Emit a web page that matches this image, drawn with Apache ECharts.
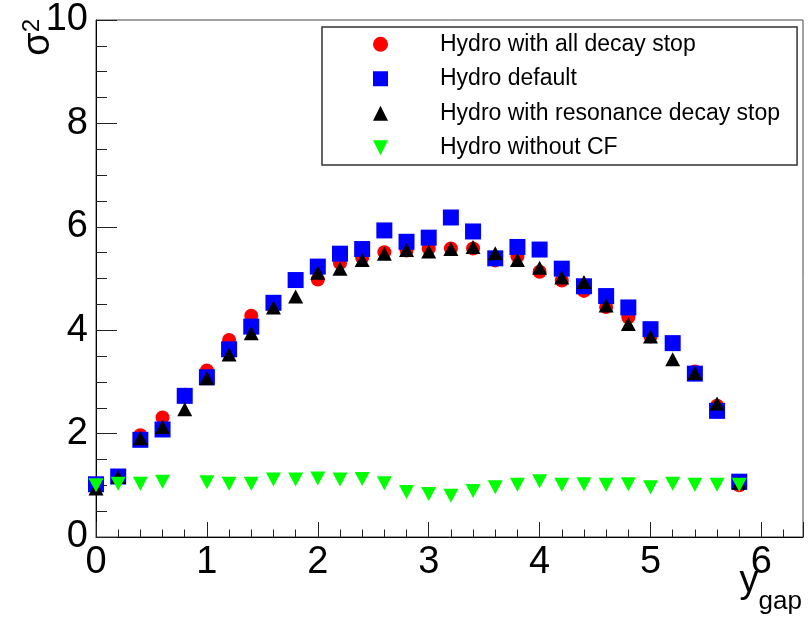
<!DOCTYPE html>
<html>
<head>
<meta charset="utf-8">
<script src="https://cdn.jsdelivr.net/npm/echarts@6/dist/echarts.min.js"></script>
<style>
  html, body { margin: 0; padding: 0; background: #fff; }
  #chart { width: 812px; height: 618px; }
</style>
</head>
<body>
<div id="chart"></div>
<script>
// Rapidity gap bins (y_gap)
const yGap = [0.0, 0.2, 0.4, 0.6, 0.8, 1.0, 1.2, 1.4, 1.6, 1.8,
              2.0, 2.2, 2.4, 2.6, 2.8, 3.0, 3.2, 3.4, 3.6, 3.8,
              4.0, 4.2, 4.4, 4.6, 4.8, 5.0, 5.2, 5.4, 5.6, 5.8];

// sigma^2 for each hydro variant
const allDecayStop = [1.00, 1.15, 1.97, 2.31, 2.75, 3.22, 3.81, 4.28, 4.47, 4.97,
                      4.98, 5.30, 5.40, 5.51, 5.54, 5.58, 5.58, 5.58, 5.35, 5.43,
                      5.13, 4.96, 4.76, 4.45, 4.25, 3.88, 3.73, 3.20, 2.54, 1.00];
const hydroDefault = [1.02, 1.17, 1.88, 2.08, 2.73, 3.09, 3.63, 4.07, 4.53, 4.97,
                      5.23, 5.48, 5.57, 5.93, 5.71, 5.79, 6.18, 5.91, 5.39, 5.61,
                      5.56, 5.19, 4.85, 4.66, 4.44, 4.02, 3.75, 3.16, 2.44, 1.07];
const resonanceStop = [0.94, 1.16, 1.91, 2.13, 2.47, 3.07, 3.53, 3.94, 4.44, 4.65,
                       5.11, 5.19, 5.36, 5.48, 5.55, 5.52, 5.57, 5.61, 5.49, 5.36,
                       5.21, 5.02, 4.93, 4.48, 4.12, 3.88, 3.44, 3.17, 2.58, 1.05];
const withoutCF = [1.00, 1.03, 1.03, 1.07, null, 1.06, 1.03, 1.03, 1.11, 1.11,
                   1.13, 1.11, 1.12, 1.04, 0.87, 0.83, 0.80, 0.89, 0.96, 1.01,
                   1.08, 1.01, 1.02, 1.01, 1.02, 0.96, 1.03, 1.01, 1.01, 1.01];

const seriesNames = ['Hydro with all decay stop', 'Hydro default',
                     'Hydro with resonance decay stop', 'Hydro without CF'];

function pairs(values) {
  const out = [];
  values.forEach((v, i) => { if (v !== null) out.push([yGap[i], v]); });
  return out;
}

const FONT = 'Liberation Sans, Arial, Helvetica, sans-serif';
const downTriangle = 'path://M0,0L10,0L5,10Z';
const upTriangle = 'path://M5,0L10,10L0,10Z';
const square = 'path://M0,0L10,0L10,10L0,10Z';
const X_MAX = 6.375;

const chart = echarts.init(document.getElementById('chart'), null, { renderer: 'canvas' });

chart.setOption({
  animation: false,
  backgroundColor: '#ffffff',
  textStyle: { fontFamily: FONT, color: '#000' },
  grid: {
    left: 96, top: 20, right: 9, bottom: 81,
    show: true, borderColor: '#444', borderWidth: 1, backgroundColor: '#fff'
  },
  xAxis: [
    {
      type: 'value', min: 0, max: X_MAX, interval: 1,
      axisLine: { show: true, onZero: false, lineStyle: { color: '#000', width: 1 } },
      axisTick: { show: true, inside: true, length: 15, lineStyle: { color: '#222', width: 1 } },
      axisLabel: {
        fontSize: 38, color: '#000', margin: 7, fontFamily: FONT,
        formatter: v => (Math.abs(v - Math.round(v)) < 1e-9 ? String(Math.round(v)) : '')
      },
      splitLine: { show: false }
    },
    {
      // minor ticks every 0.2
      type: 'value', min: 0, max: X_MAX, interval: 0.2, position: 'bottom',
      axisLine: { show: false },
      axisTick: { show: true, inside: true, length: 7.5, lineStyle: { color: '#222', width: 1 } },
      axisLabel: { show: false },
      splitLine: { show: false }
    }
  ],
  yAxis: {
    type: 'value', min: 0, max: 10, interval: 2,
    axisLine: { show: true, onZero: false, lineStyle: { color: '#000', width: 1 } },
    axisTick: { show: true, inside: true, length: 21, lineStyle: { color: '#222', width: 1 } },
    minorTick: { show: true, splitNumber: 4, length: 11, lineStyle: { color: '#222', width: 1 } },
    axisLabel: { fontSize: 38, color: '#000', margin: 8, fontFamily: FONT },
    splitLine: { show: false }
  },
  legend: {
    orient: 'vertical',
    left: 322, top: 27,
    padding: [0, 17, 0, 51],
    itemGap: 0,
    itemWidth: 15, itemHeight: 15,
    symbolKeepAspect: true,
    backgroundColor: '#fff',
    borderColor: '#333', borderWidth: 1.5, borderRadius: 0,
    selectedMode: false,
    textStyle: { fontSize: 23, color: '#000', fontFamily: FONT, lineHeight: 34.5, padding: [0, 0, 0, 47] },
    data: [
      { name: seriesNames[0], icon: 'circle' },
      { name: seriesNames[1], icon: square },
      { name: seriesNames[2], icon: upTriangle },
      { name: seriesNames[3], icon: downTriangle }
    ]
  },
  graphic: [
    {
      type: 'text', x: 39, y: 19, rotation: Math.PI / 2, silent: true,
      style: {
        text: '{s|σ}{p|2}', align: 'right', verticalAlign: 'middle', fill: '#000',
        rich: {
          s: { fontSize: 38, lineHeight: 38, fontFamily: FONT, verticalAlign: 'middle', fill: '#000' },
          p: { fontSize: 24, lineHeight: 24, fontFamily: FONT, verticalAlign: 'top', fill: '#000' }
        }
      }
    },
    {
      type: 'text', x: 802, y: 563, silent: true,
      style: {
        text: '{m|y}{s|gap}', align: 'right', verticalAlign: 'top', fill: '#000',
        rich: {
          m: { fontSize: 38, lineHeight: 38, fontFamily: FONT, verticalAlign: 'top', fill: '#000' },
          s: { fontSize: 26, lineHeight: 26, fontFamily: FONT, verticalAlign: 'top', padding: [26, 0, 0, 0], fill: '#000' }
        }
      }
    }
  ],
  series: [
    {
      name: seriesNames[0], type: 'scatter', data: pairs(allDecayStop),
      symbol: 'circle', symbolSize: 14,
      itemStyle: { color: '#ff0000', opacity: 1 }, z: 2
    },
    {
      name: seriesNames[1], type: 'scatter', data: pairs(hydroDefault),
      symbol: 'rect', symbolSize: 16,
      itemStyle: { color: '#0000ff', opacity: 1 }, z: 3
    },
    {
      name: seriesNames[2], type: 'scatter', data: pairs(resonanceStop),
      symbol: 'triangle', symbolSize: [15, 14],
      itemStyle: { color: '#000000', opacity: 1 }, z: 4
    },
    {
      name: seriesNames[3], type: 'scatter', data: pairs(withoutCF),
      symbol: 'triangle', symbolRotate: 180, symbolSize: [15, 14],
      itemStyle: { color: '#00ff00', opacity: 1 }, z: 5
    }
  ]
});
</script>
</body>
</html>
